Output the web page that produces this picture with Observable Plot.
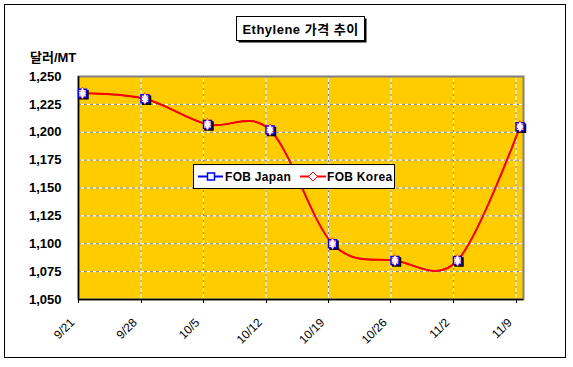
<!DOCTYPE html>
<html><head><meta charset="utf-8">
<script src="https://cdn.jsdelivr.net/npm/d3@7"></script>
<script src="https://cdn.jsdelivr.net/npm/@observablehq/plot@0.6"></script>
<style>body{margin:0;background:#fff} svg{display:block}</style>
</head><body><div id="chart"></div>
<script>
const categories = ["9/21","9/28","10/5","10/12","10/19","10/26","11/2","11/9"];
const fobJapan = [1235,1230,1207,1202,1100,1085,1085,1205];
const fobKorea = [1235,1230,1207,1202,1100,1085,1085,1205];
const yTicks = [1050,1075,1100,1125,1150,1175,1200,1225,1250];
const title = "Ethylene 가격 추이";
const yLabel = "달러/MT";
const seriesNames = ["FOB Japan","FOB Korea"];

const japan = categories.map((c,i)=>({i, c, v: fobJapan[i]}));
const korea = categories.map((c,i)=>({i, c, v: fobKorea[i]}));
const off = -0.064;
const gridX = d3.range(1, categories.length).map(i => i + off);
const tickPos = d3.range(0, categories.length).map(i => i + off);
const labelX = categories.map((c,i)=>({x: i + off, c}));
const font = "'Liberation Sans', Arial, 'Noto Sans CJK KR', sans-serif";
const excelCurve = d3.curveCardinal.tension(0);

const plot = Plot.plot({
  width: 573, height: 367,
  marginLeft: 78, marginRight: 50, marginTop: 76, marginBottom: 68,
  x: {type: "linear", domain: [off, categories.length - 1 + 0.056], axis: null},
  y: {domain: [1050, 1250], axis: null},
  style: {fontFamily: font, background: "white", overflow: "visible"},
  marks: [
    Plot.frame({fill: "#FFCC00", stroke: "none"}),
    Plot.ruleY(yTicks.slice(1, -1), {stroke: "white", strokeWidth: 1}),
    Plot.ruleY(yTicks.slice(1, -1), {stroke: "#808080", strokeWidth: 1, strokeDasharray: "3,3"}),
    Plot.ruleX(gridX, {stroke: "white", strokeWidth: 1}),
    Plot.ruleX(gridX, {stroke: "#808080", strokeWidth: 1, strokeDasharray: "2,4"}),
    Plot.frame({stroke: "#808080", strokeWidth: 2}),
    Plot.ruleX([off], {stroke: "black", strokeWidth: 1.5}),
    Plot.ruleY([1050], {stroke: "black", strokeWidth: 1.5}),
    Plot.line(japan, {x: "i", y: "v", stroke: "#0000FF", strokeWidth: 1.2, curve: excelCurve}),
    Plot.line(korea, {x: "i", y: "v", stroke: "#FF0000", strokeWidth: 2, curve: excelCurve}),
    Plot.dot(japan, {x: "i", y: "v", symbol: "square", r: 4.5, fill: "black", stroke: "black", dx: 1.5, dy: 1.5}),
    Plot.dot(japan, {x: "i", y: "v", symbol: "square", r: 4.5, fill: "white", stroke: "#0000FF", strokeWidth: 1.5}),
    Plot.dot(korea, {x: "i", y: "v", symbol: "diamond", r: 3.6, fill: "white", stroke: "#FF0000", strokeWidth: 1, strokeDasharray: "1,1"}),
    Plot.text(yTicks, {x: off, y: d => d, text: d => d3.format(",")(d), textAnchor: "end", dx: -17, fontWeight: "bold", fontSize: 13, fill: "black"}),
    Plot.text(labelX, {x: "x", y: 1050, text: "c", rotate: -45, textAnchor: "end", dx: -6, dy: 21, fontWeight: "normal", fontSize: 12, fill: "black"})
  ]
});

const svg = d3.select(plot);
const sx = plot.scale("x");
const ax = svg.append("g").attr("stroke", "black");
tickPos.forEach(p => {
  const px = Math.round(sx.apply(p)) + 0.5;
  ax.append("line").attr("x1", px).attr("x2", px).attr("y1", 299).attr("y2", 303);
});
// outer border
svg.append("rect").attr("x", 4.5).attr("y", 4.5).attr("width", 561).attr("height", 353)
  .attr("fill", "none").attr("stroke", "black").attr("stroke-width", 1);
// title box
svg.append("rect").attr("x", 238.5).attr("y", 18.5).attr("width", 128).attr("height", 24)
  .attr("fill", "black");
svg.append("rect").attr("x", 236.5).attr("y", 16.5).attr("width", 128).attr("height", 24)
  .attr("fill", "white").attr("stroke", "black").attr("stroke-width", 1);
svg.append("text").attr("x", 300.5).attr("y", 29).attr("text-anchor", "middle").attr("dominant-baseline", "central")
  .attr("font-family", font).attr("font-weight", "bold").attr("font-size", 13).attr("letter-spacing", 0.5).text(title);
// y label
svg.append("text").attr("x", 30).attr("y", 57).attr("text-anchor", "start").attr("dominant-baseline", "central")
  .attr("font-family", font).attr("font-weight", "bold").attr("font-size", 13).text(yLabel);
// legend
const lg = svg.append("g");
lg.append("rect").attr("x", 193.5).attr("y", 164.5).attr("width", 201).attr("height", 24)
  .attr("fill", "white").attr("stroke", "black").attr("stroke-width", 1);
lg.append("line").attr("x1", 198).attr("x2", 223).attr("y1", 176.5).attr("y2", 176.5).attr("stroke", "#0000FF").attr("stroke-width", 2);
lg.append("rect").attr("x", 207.5).attr("y", 173).attr("width", 7).attr("height", 7).attr("fill", "white").attr("stroke", "#0000FF").attr("stroke-width", 1.5);
lg.append("text").attr("x", 225).attr("y", 177).attr("text-anchor", "start").attr("dominant-baseline", "central")
  .attr("font-family", font).attr("font-weight", "bold").attr("font-size", 12).attr("letter-spacing", 0.3).text(seriesNames[0]);
lg.append("line").attr("x1", 300).attr("x2", 326).attr("y1", 176.5).attr("y2", 176.5).attr("stroke", "#FF0000").attr("stroke-width", 2);
lg.append("path").attr("d", "M313,172L317.5,176.5L313,181L308.5,176.5Z").attr("fill", "white").attr("stroke", "#FF0000").attr("stroke-width", 1);
lg.append("text").attr("x", 327).attr("y", 177).attr("text-anchor", "start").attr("dominant-baseline", "central")
  .attr("font-family", font).attr("font-weight", "bold").attr("font-size", 12).attr("letter-spacing", 0.3).text(seriesNames[1]);

document.getElementById("chart").append(plot);
</script>
</body></html>
